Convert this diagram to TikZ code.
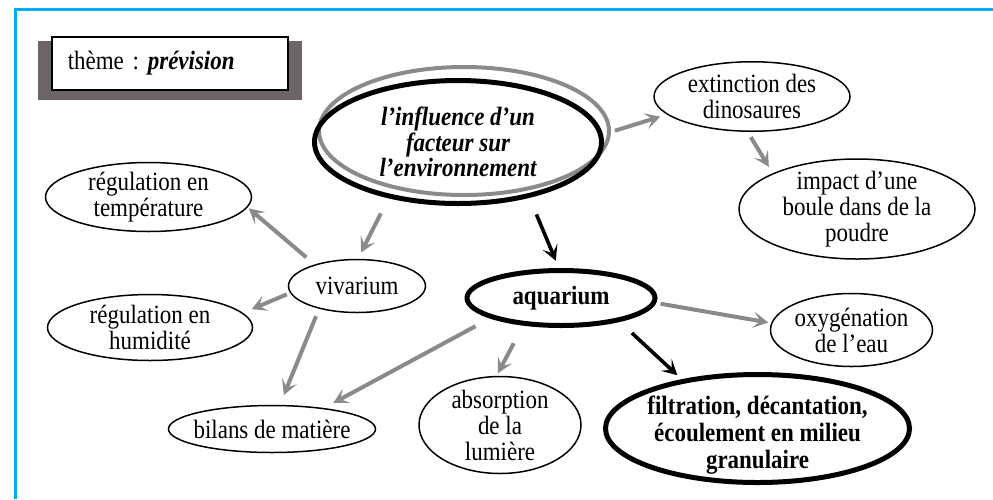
\documentclass[tikz,border=0pt]{standalone}
\usepackage{fontspec}
\setmainfont{Liberation Serif}[FakeStretch=0.87]
\usetikzlibrary{arrows.meta,shapes.geometric}
\definecolor{frameblue}{HTML}{00AEEF}
\definecolor{linkgray}{HTML}{8A8A8A}
\definecolor{shadowgray}{HTML}{6B6565}
\frenchspacing

\begin{document}
\begin{tikzpicture}[x=1pt,y=-1pt,
  bubble/.style={ellipse, draw, line width=1.5pt, inner sep=-30pt, align=center,
                 font=\fontsize{26.4}{26}\selectfont},
  keybubble/.style={bubble, line width=5pt, font=\fontsize{26.4}{26.5}\selectfont\bfseries},
  glink/.style={draw=linkgray, line width=4pt,
                -{Stealth[length=15pt,width=16pt,inset=7pt]}},
  blink/.style={glink, draw=black, line width=3.6pt},
]
\useasboundingbox (0,0) rectangle (993,499);

% page frame
\draw[frameblue, line width=3pt, line join=miter] (15.5,499) -- (15.5,9) -- (993,9);

% theme label with its dark backing
\fill[shadowgray] (38,41) rectangle (302,100);
\node[draw, fill=white, line width=1.5pt, anchor=north west, inner xsep=16pt, inner ysep=0pt,
      text width=204pt, minimum height=53pt, align=left,
      font=\fontsize{26.4}{26}\selectfont] (theme) at (51,36) {thème : \textbf{\textit{prévision}}};

% central question
\node[bubble, draw=linkgray, line width=4pt, minimum width=290pt, minimum height=128pt] (ring) at (464,131) {};
\node[keybubble, font=\fontsize{26.4}{25.5}\selectfont\bfseries\itshape,
      minimum width=287pt, minimum height=123pt] (infl) at (458,142)
      {l’influence d’un\\facteur sur\\l’environnement};

% dinosaur branch
\node[bubble, minimum width=196pt, minimum height=69.5pt] (ext) at (752,96.5) {extinction des\\dinosaures};
\node[bubble, minimum width=236pt, minimum height=100pt] (imp) at (857,209) {impact d’une\\boule dans de la\\poudre};

% vivarium branch
\node[bubble, minimum width=137pt, minimum height=53pt] (viv) at (357,286) {vivarium};
\node[bubble, minimum width=206pt, minimum height=69pt] (temp) at (148.5,197) {régulation en\\température};
\node[bubble, minimum width=205pt, minimum height=66pt] (hum) at (150,327.5) {régulation en\\humidité};
\node[bubble, minimum width=207pt, minimum height=47pt] (bil) at (272,429) {bilans de matière};

% aquarium branch
\node[keybubble, minimum width=188pt, minimum height=55pt] (aqua) at (561,298) {aquarium};
\node[bubble, minimum width=162pt, minimum height=97pt] (abs) at (500,425) {absorption\\de la\\lumière};
\node[bubble, minimum width=162pt, minimum height=73pt] (oxy) at (851.5,330) {oxygénation\\de l’eau};
\node[keybubble, font=\fontsize{26.4}{27}\selectfont\bfseries,
      minimum width=304pt, minimum height=108pt] (fil) at (757.5,428.5)
      {\rule{0pt}{31pt}filtration, décantation,\\écoulement en milieu\\granulaire};

% links
\draw[glink, shorten <=12.5pt, shorten >=7pt]  (infl.3.6)   -- (ext.192.8);
\draw[glink, shorten <=6pt,    shorten >=7.5pt] (ext.263.1)  -- (imp.157.6);
\draw[glink, shorten <=17pt,   shorten >=7pt]  (infl.219.6) -- (viv.88.3);
\draw[glink, shorten <=11pt,   shorten >=1.5pt] (viv.153.9)  -- (temp.354.3);
\draw[glink, shorten <=3.5pt,  shorten >=9.5pt] (viv.186.5)  -- (hum.9.9);
\draw[glink, shorten <=8pt,    shorten >=10.5pt] (viv.211.5) -- (bil.72.1);
\draw[glink, shorten <=16.5pt, shorten >=10.5pt] (aqua.196.6) -- (bil.22.6);
\draw[glink, shorten <=20pt,   shorten >=3pt]  (aqua.216.3) -- (abs.94.4);
\draw[glink, shorten <=4.5pt,  shorten >=3pt]  (aqua.357.7) -- (oxy.175.9);
\draw[blink, shorten <=18pt,   shorten >=8pt]  (infl.322.8) -- (aqua.94.5);
\draw[blink, shorten <=16.5pt, shorten >=6pt]  (aqua.338.6) -- (fil.147.7);
\end{tikzpicture}
\end{document}
